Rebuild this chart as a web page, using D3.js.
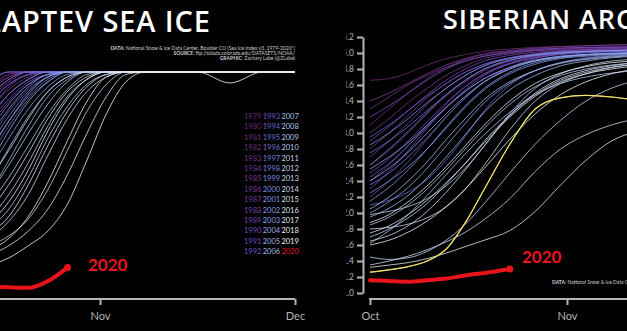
<!DOCTYPE html>
<html><head><meta charset="utf-8">
<script src="https://cdn.jsdelivr.net/npm/d3@7"></script>
<style>body{margin:0;background:#000;}svg{display:block;}</style>
</head><body>
<svg id="chart" width="627" height="331"></svg>
<script>
// ---------------- DATA ----------------
const years = [1979,1980,1981,1982,1983,1984,1985,1986,1987,1988,1989,1990,1991,1992,
               1993,1994,1995,1996,1997,1998,1999,2000,2001,2002,2003,2004,2005,2006,
               2007,2008,2009,2010,2011,2012,2013,2014,2015,2016,2017,2018,2019];
const currentYear = 2020;

// Laptev Sea extent (million km²), day index 0 = Oct 1
const laptevDays = [14,17,20,23,26,29,32,35,38,46,51,56,61];
const laptevSeries = [
  [0.84,0.88,0.90,0.90,0.90,0.90,0.90,0.90,0.90,0.90,0.90,0.90,0.90],
  [0.80,0.87,0.90,0.90,0.90,0.90,0.90,0.90,0.90,0.90,0.90,0.90,0.90],
  [0.86,0.90,0.90,0.90,0.90,0.90,0.90,0.90,0.90,0.90,0.90,0.90,0.90],
  [0.78,0.85,0.89,0.90,0.90,0.90,0.90,0.90,0.90,0.90,0.90,0.90,0.90],
  [0.82,0.88,0.90,0.90,0.90,0.90,0.90,0.90,0.90,0.90,0.90,0.90,0.90],
  [0.75,0.83,0.88,0.90,0.90,0.90,0.90,0.90,0.90,0.90,0.90,0.90,0.90],
  [0.87,0.90,0.90,0.90,0.90,0.90,0.90,0.90,0.90,0.90,0.90,0.90,0.90],
  [0.79,0.86,0.90,0.90,0.90,0.90,0.90,0.90,0.90,0.90,0.90,0.90,0.90],
  [0.72,0.81,0.87,0.90,0.90,0.90,0.90,0.90,0.90,0.90,0.90,0.90,0.90],
  [0.83,0.89,0.90,0.90,0.90,0.90,0.90,0.90,0.90,0.90,0.90,0.90,0.90],
  [0.70,0.79,0.86,0.89,0.90,0.90,0.90,0.90,0.90,0.90,0.90,0.90,0.90],
  [0.68,0.78,0.85,0.89,0.90,0.90,0.90,0.90,0.90,0.90,0.90,0.90,0.90],
  [0.74,0.84,0.89,0.90,0.90,0.90,0.90,0.90,0.90,0.90,0.90,0.90,0.90],
  [0.85,0.90,0.90,0.90,0.90,0.90,0.90,0.90,0.90,0.90,0.90,0.90,0.90],
  [0.77,0.85,0.89,0.90,0.90,0.90,0.90,0.90,0.90,0.90,0.90,0.90,0.90],
  [0.62,0.74,0.83,0.88,0.90,0.90,0.90,0.90,0.90,0.90,0.90,0.90,0.90],
  [0.55,0.68,0.79,0.86,0.90,0.90,0.90,0.90,0.90,0.90,0.90,0.90,0.90],
  [0.80,0.87,0.90,0.90,0.90,0.90,0.90,0.90,0.90,0.90,0.90,0.90,0.90],
  [0.58,0.70,0.80,0.87,0.90,0.90,0.90,0.90,0.90,0.90,0.90,0.90,0.90],
  [0.66,0.77,0.85,0.89,0.90,0.90,0.90,0.90,0.90,0.90,0.90,0.90,0.90],
  [0.60,0.72,0.82,0.88,0.90,0.90,0.90,0.90,0.90,0.90,0.90,0.90,0.90],
  [0.71,0.81,0.87,0.90,0.90,0.90,0.90,0.90,0.90,0.90,0.90,0.90,0.90],
  [0.64,0.75,0.84,0.89,0.90,0.90,0.90,0.90,0.90,0.90,0.90,0.90,0.90],
  [0.50,0.63,0.75,0.84,0.89,0.90,0.90,0.90,0.90,0.90,0.90,0.90,0.90],
  [0.57,0.70,0.81,0.88,0.90,0.90,0.90,0.90,0.90,0.90,0.90,0.90,0.90],
  [0.52,0.66,0.78,0.86,0.90,0.90,0.90,0.90,0.90,0.90,0.90,0.90,0.90],
  [0.40,0.54,0.68,0.80,0.87,0.90,0.90,0.90,0.90,0.90,0.90,0.90,0.90],
  [0.45,0.59,0.72,0.82,0.88,0.90,0.90,0.90,0.90,0.90,0.90,0.90,0.90],
  [0.26,0.34,0.47,0.63,0.76,0.85,0.89,0.90,0.90,0.90,0.90,0.90,0.90],
  [0.36,0.47,0.60,0.73,0.83,0.89,0.90,0.90,0.90,0.90,0.90,0.90,0.90],
  [0.40,0.52,0.65,0.77,0.86,0.90,0.90,0.90,0.90,0.90,0.90,0.90,0.90],
  [0.30,0.40,0.53,0.68,0.80,0.87,0.90,0.90,0.90,0.90,0.90,0.90,0.90],
  [0.19,0.23,0.30,0.42,0.58,0.74,0.85,0.90,0.90,0.90,0.90,0.90,0.90],
  [0.22,0.29,0.40,0.56,0.71,0.82,0.88,0.90,0.90,0.90,0.90,0.90,0.90],
  [0.46,0.58,0.71,0.82,0.88,0.90,0.90,0.90,0.90,0.90,0.90,0.90,0.90],
  [0.33,0.44,0.57,0.71,0.82,0.88,0.90,0.90,0.90,0.90,0.90,0.90,0.90],
  [0.24,0.31,0.44,0.60,0.74,0.84,0.89,0.90,0.90,0.90,0.90,0.90,0.90],
  [0.15,0.19,0.25,0.34,0.48,0.65,0.80,0.89,0.90,0.90,0.90,0.90,0.90],
  [0.28,0.37,0.50,0.66,0.79,0.87,0.90,0.90,0.90,0.90,0.90,0.90,0.90],
  [0.17,0.22,0.31,0.45,0.62,0.78,0.88,0.90,0.90,0.90,0.90,0.90,0.90],
  [0.11,0.14,0.19,0.25,0.36,0.54,0.73,0.86,0.90,0.90,0.855,0.90,0.90]
];
const laptev2020 = [0.022,0.019,0.017,0.045,0.10];

// Siberian Arctic extent (million km²), day index 0 = Oct 1
const siberiaDays = [0,3,6,9,12,15,18,22,26,30,34,38,42];
const siberiaSeries = [
  [3.66,3.68,3.75,3.85,3.93,3.98,4.02,4.05,4.07,4.08,4.09,4.10,4.10],
  [3.10,3.30,3.50,3.68,3.82,3.92,3.98,4.02,4.05,4.06,4.07,4.08,4.08],
  [2.80,3.00,3.22,3.44,3.62,3.76,3.86,3.94,3.99,4.02,4.03,4.04,4.05],
  [3.30,3.45,3.60,3.72,3.82,3.90,3.96,4.00,4.03,4.04,4.05,4.06,4.06],
  [2.60,2.78,3.00,3.24,3.46,3.64,3.78,3.90,3.97,4.01,4.03,4.04,4.05],
  [3.00,3.18,3.38,3.56,3.72,3.84,3.93,3.99,4.03,4.05,4.06,4.07,4.07],
  [2.40,2.60,2.84,3.10,3.36,3.58,3.74,3.88,3.96,4.00,4.02,4.03,4.04],
  [3.40,3.50,3.62,3.74,3.85,3.93,3.99,4.03,4.06,4.08,4.09,4.10,4.11],
  [2.70,2.90,3.12,3.36,3.56,3.72,3.84,3.94,3.99,4.02,4.04,4.05,4.05],
  [2.20,2.40,2.64,2.92,3.20,3.44,3.64,3.82,3.93,3.99,4.02,4.03,4.04],
  [2.90,3.08,3.28,3.48,3.66,3.80,3.90,3.97,4.01,4.03,4.04,4.05,4.05],
  [2.50,2.68,2.90,3.14,3.38,3.58,3.74,3.87,3.95,3.99,4.01,4.02,4.03],
  [3.20,3.34,3.50,3.66,3.80,3.90,3.96,4.01,4.04,4.06,4.07,4.07,4.08],
  [2.30,2.52,2.78,3.06,3.32,3.54,3.72,3.86,3.94,3.98,4.00,4.02,4.03],
  [2.95,3.10,3.28,3.46,3.62,3.76,3.86,3.94,3.98,4.01,4.02,4.03,4.03],
  [2.45,2.62,2.84,3.08,3.32,3.52,3.68,3.82,3.91,3.96,3.98,4.00,4.01],
  [2.10,2.16,2.26,2.42,2.66,2.96,3.28,3.60,3.78,3.88,3.94,3.97,3.99],
  [2.75,2.90,3.08,3.28,3.48,3.66,3.80,3.91,3.97,4.00,4.01,4.02,4.02],
  [2.35,2.50,2.70,2.94,3.20,3.44,3.64,3.80,3.90,3.95,3.98,4.00,4.00],
  [2.60,2.80,3.02,3.26,3.48,3.66,3.80,3.91,3.97,4.00,4.02,4.03,4.03],
  [2.25,2.40,2.58,2.80,3.06,3.32,3.54,3.74,3.86,3.93,3.96,3.98,3.99],
  [2.85,3.00,3.18,3.38,3.56,3.72,3.84,3.93,3.98,4.01,4.02,4.03,4.04],
  [2.15,2.32,2.54,2.80,3.08,3.34,3.56,3.76,3.88,3.94,3.97,3.99,4.00],
  [2.55,2.70,2.88,3.10,3.32,3.52,3.68,3.82,3.91,3.96,3.98,3.99,4.00],
  [2.00,2.14,2.32,2.56,2.84,3.12,3.38,3.62,3.78,3.88,3.93,3.96,3.98],
  [2.40,2.56,2.76,3.00,3.24,3.46,3.64,3.80,3.90,3.95,3.98,3.99,4.00],
  [1.95,2.06,2.22,2.44,2.70,2.98,3.26,3.54,3.72,3.84,3.90,3.94,3.96],
  [2.05,2.20,2.40,2.64,2.92,3.18,3.42,3.64,3.78,3.87,3.92,3.95,3.97],
  [1.62,1.78,1.98,2.22,2.48,2.74,2.98,3.26,3.48,3.62,3.70,3.75,3.78],
  [1.85,1.95,2.10,2.30,2.54,2.80,3.06,3.36,3.58,3.72,3.80,3.85,3.88],
  [1.98,2.02,2.08,2.18,2.34,2.56,2.84,3.24,3.56,3.74,3.84,3.90,3.92],
  [1.70,1.80,1.94,2.12,2.36,2.62,2.90,3.22,3.48,3.66,3.76,3.82,3.86],
  [1.45,1.42,1.44,1.52,1.66,1.86,2.12,2.50,2.86,3.16,3.40,3.56,3.66],
  [1.35,1.40,1.46,1.54,1.64,1.76,1.92,2.18,2.52,2.80,2.98,3.10,3.18],
  [1.80,1.82,1.86,1.94,2.08,2.30,2.60,3.04,3.40,3.62,3.74,3.82,3.86],
  [1.65,1.72,1.84,2.02,2.26,2.54,2.84,3.22,3.50,3.68,3.78,3.84,3.88],
  [1.75,1.84,1.98,2.16,2.38,2.62,2.88,3.20,3.46,3.64,3.74,3.80,3.84],
  [1.32,1.35,1.38,1.43,1.50,1.58,1.66,1.78,2.02,2.35,2.66,2.90,3.02],
  [1.88,1.98,2.14,2.34,2.58,2.84,3.10,3.40,3.62,3.75,3.83,3.88,3.90],
  [1.60,1.66,1.76,1.90,2.08,2.30,2.56,2.92,3.24,3.48,3.64,3.74,3.80],
  [1.26,1.29,1.33,1.40,1.55,1.88,2.30,2.86,3.30,3.44,3.47,3.45,3.41]
];
const siberia2020 = [1.16,1.15,1.14,1.16,1.18,1.22,1.25,1.30];
const siberiaHighlight = 2019;

const laptevMonthDays = [31,61];
const laptevMonthLabels = ["Nov","Dec"];
const siberiaMonthDays = [0,31];
const siberiaMonthLabels = ["Oct","Nov"];
const siberiaYTicks = [1.0,1.2,1.4,1.6,1.8,2.0,2.2,2.4,2.6,2.8,3.0,3.2,3.4,3.6,3.8,4.0,4.2];

// ---------------- DRAW ----------------
const svg = d3.select("#chart");
svg.append("rect").attr("width",627).attr("height",331).attr("fill","#000");
const font = "Lato, 'Open Sans', sans-serif";
const titleFont = "'Open Sans', Lato, sans-serif";
const color = d3.scaleLinear()
  .domain([1979,1986,1993,2000,2007,2013,2019])
  .range(["#6a2c70","#7a3c9a","#6a5ad2","#7a92e2","#a9c0e8","#ccd8ec","#f2f2f2"]);

const defs = svg.append("defs");
defs.append("clipPath").attr("id","clipL").append("rect").attr("x",0).attr("y",0).attr("width",330).attr("height",331);
defs.append("clipPath").attr("id","clipR").append("rect").attr("x",346).attr("y",0).attr("width",281).attr("height",331);

// fit a title so that a given visible part spans [x0, x1]
function fitTitle(sel, full, skipChars, visibleChars, x0, x1) {
  const probe = sel.text(full.slice(0, skipChars)); const wSkip = skipChars ? probe.node().getComputedTextLength() : 0;
  sel.text(full.slice(skipChars, skipChars + visibleChars)); const wVis = sel.node().getComputedTextLength();
  const ls = ((x1 - x0) - wVis) / (visibleChars - 1);
  sel.text(full).attr("letter-spacing", ls).attr("x", x0 - wSkip - skipChars * ls);
}

// ---- Left panel: Laptev ----
const L = svg.append("g").attr("clip-path","url(#clipL)");
const xL = d3.scaleLinear().domain([31,61]).range([100,295]);
const yL = d3.scaleLinear().domain([0,0.9]).range([292,72]);
const lineL = d3.line().x((d,i)=>xL(laptevDays[i])).y(d=>yL(d)).curve(d3.curveMonotoneX);

const tL = L.append("text").attr("y",32).attr("fill","#fff").attr("font-family",titleFont)
  .attr("font-weight",600).attr("font-size",29);
fitTitle(tL, "LAPTEV SEA ICE", 1, 13, 2, 210);

const srcL = L.append("g").attr("font-family",font).attr("font-size",5).attr("fill","#cfcfcf").attr("text-anchor","end");
[["DATA: ","National Snow & Ice Data Center, Boulder CO (Sea Ice Index v3, 1979-2020*)"],
 ["SOURCE: ","ftp://sidads.colorado.edu/DATASETS/NOAA/"],
 ["GRAPHIC: ","Zachary Labe (@ZLabe)"]].forEach((s,i)=>{
  const t = srcL.append("text").attr("x",295).attr("y",50+i*5.2);
  t.append("tspan").attr("font-weight",700).text(s[0]);
  t.append("tspan").text(s[1]);
});

L.append("g").selectAll("path").data(laptevSeries).join("path")
  .attr("d",lineL).attr("fill","none")
  .attr("stroke",(d,i)=>color(years[i])).attr("stroke-width",0.9).attr("opacity",0.9);

L.append("path").datum(laptev2020).attr("d",lineL).attr("fill","none")
  .attr("stroke","#e8141c").attr("stroke-width",4).attr("stroke-linecap","round");
L.append("circle").attr("cx",xL(laptevDays[laptev2020.length-1])).attr("cy",yL(laptev2020[laptev2020.length-1]))
  .attr("r",3.5).attr("fill","#e8141c");
L.append("text").attr("x",88).attr("y",271).attr("fill","#e8141c").attr("font-family",font)
  .attr("font-weight",700).attr("font-size",17).text(String(currentYear));

// legend
const allYears = years.concat([currentYear]);
const leg = L.append("g").attr("font-family",font).attr("font-size",7.5);
allYears.forEach((yr,i)=>{
  const col = Math.floor(i/14), row = i%14;
  leg.append("text").attr("x",244+col*18.7).attr("y",119+row*10.4)
    .attr("fill", yr===currentYear ? "#e8141c" : color(yr)).text(yr);
});

// x axis left
const axL = L.append("g").attr("transform","translate(0,299)")
  .call(d3.axisBottom(xL).tickValues(laptevMonthDays).tickFormat((d,i)=>laptevMonthLabels[i]).tickSize(6).tickSizeOuter(0));
axL.select(".domain").remove();
axL.append("line").attr("x1",0).attr("x2",295).attr("stroke","#b5b5b5").attr("stroke-width",2);
axL.selectAll(".tick line").attr("stroke","#b5b5b5").attr("stroke-width",2);
axL.selectAll(".tick text").attr("fill","#b5b5b5").attr("font-family",font).attr("font-size",11).attr("dy","1.1em");

// ---- Right panel: Siberian Arctic ----
const R = svg.append("g").attr("clip-path","url(#clipR)");
const xR = d3.scaleLinear().domain([0,31]).range([370,567]);
const yR = d3.scaleLinear().domain([1.0,4.2]).range([293,37]);
const lineR = d3.line().x((d,i)=>xR(siberiaDays[i])).y(d=>yR(d)).curve(d3.curveMonotoneX);

const tR = R.append("text").attr("y",29).attr("fill","#fff").attr("font-family",titleFont)
  .attr("font-weight",600).attr("font-size",27);
fitTitle(tR, "SIBERIAN ARCTIC SEA ICE", 0, 11, 443, 615);

R.append("g").selectAll("path").data(siberiaSeries).join("path")
  .attr("d",lineR).attr("fill","none")
  .attr("stroke",(d,i)=>years[i]===siberiaHighlight ? "#f2e26a" : color(years[i]))
  .attr("stroke-width",0.9).attr("opacity",0.9);
R.append("path").datum(siberiaSeries[years.indexOf(siberiaHighlight)]).attr("d",lineR)
  .attr("fill","none").attr("stroke","#f2e26a").attr("stroke-width",1.2);

R.append("path").datum(siberia2020).attr("d",lineR).attr("fill","none")
  .attr("stroke","#e8141c").attr("stroke-width",4).attr("stroke-linecap","round");
R.append("circle").attr("cx",xR(siberiaDays[siberia2020.length-1])).attr("cy",yR(siberia2020[siberia2020.length-1]))
  .attr("r",3.5).attr("fill","#e8141c");
R.append("text").attr("x",522).attr("y",263).attr("fill","#e8141c").attr("font-family",font)
  .attr("font-weight",700).attr("font-size",17).text(String(currentYear));

const srcR = R.append("text").attr("x",552).attr("y",284).attr("font-family",font).attr("font-size",5).attr("fill","#cfcfcf");
srcR.append("tspan").attr("font-weight",700).text("DATA: ");
srcR.append("tspan").text("National Snow & Ice Data Center, Boulder CO (Sea Ice Index v3, 1979-2020*)");

const ayR = R.append("g").attr("transform","translate(363,0)")
  .call(d3.axisLeft(yR).tickValues(siberiaYTicks).tickFormat(d3.format(".1f")).tickSize(6).tickSizeOuter(0));
ayR.select(".domain").attr("stroke","#b5b5b5").attr("stroke-width",2);
ayR.selectAll(".tick line").attr("stroke","#b5b5b5").attr("stroke-width",2);
ayR.selectAll(".tick text").attr("fill","#b5b5b5").attr("font-family",font).attr("font-size",8.5).attr("x",-9);

const axR = R.append("g").attr("transform","translate(0,299)")
  .call(d3.axisBottom(xR).tickValues(siberiaMonthDays).tickFormat((d,i)=>siberiaMonthLabels[i]).tickSize(6).tickSizeOuter(0));
axR.select(".domain").remove();
axR.append("line").attr("x1",369).attr("x2",640).attr("stroke","#b5b5b5").attr("stroke-width",2);
axR.selectAll(".tick line").attr("stroke","#b5b5b5").attr("stroke-width",2);
axR.selectAll(".tick text").attr("fill","#b5b5b5").attr("font-family",font).attr("font-size",11).attr("dy","1.1em");
</script>
</body></html>
